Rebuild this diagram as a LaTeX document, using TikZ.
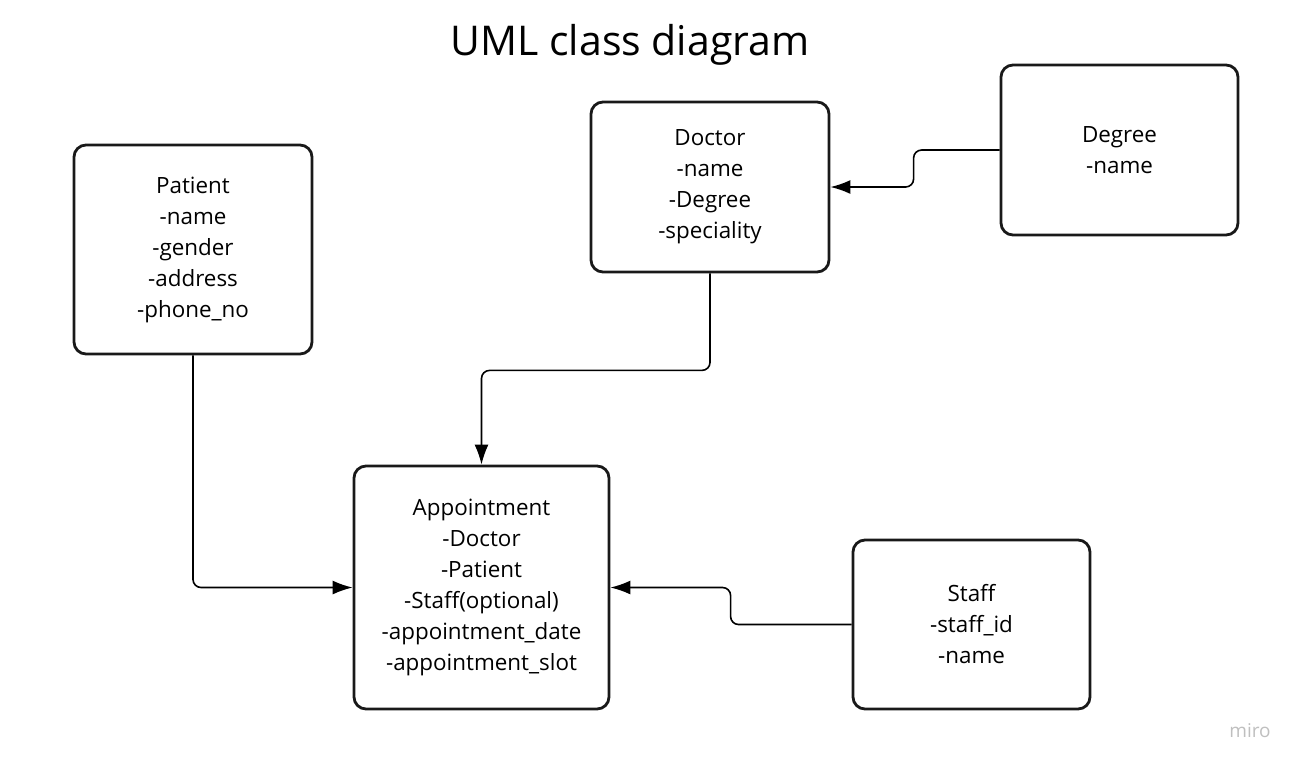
\documentclass[tikz,border=0pt]{standalone}
\usepackage{fontspec}
\setmainfont{Open Sans}
\usetikzlibrary{arrows.meta,positioning}
\begin{document}
\begin{tikzpicture}[x=0.5pt,y=-0.5pt,
    classbox/.style={draw=black!90, line width=1.4pt, rounded corners=6pt, align=center,
        inner sep=0pt, font=\fontsize{11.2}{15.5}\selectfont},
    link/.style={line width=0.8pt, rounded corners=4pt, -{Latex[length=10pt,width=7pt]}}]
    \useasboundingbox (0,0) rectangle (1301,768);
    \node (title) at (630,45) {\fontsize{20.5}{24}\selectfont UML class diagram};
    \node [classbox, minimum width=119pt, minimum height=104.5pt] (patient) at (193,249.5)
        {Patient\\-name\\-gender\\-address\\-phone\_no};
    \node [classbox, minimum width=119pt, minimum height=85pt] (doctor) at (710,187)
        {Doctor\\-name\\-Degree\\-speciality};
    \node [classbox, minimum width=118.5pt, minimum height=85pt] (degree) at (1119.5,150)
        {Degree\\-name};
    \node [classbox, minimum width=127.5pt, minimum height=121.5pt] (appointment) at (481.5,587.5)
        {Appointment\\-Doctor\\-Patient\\-Staff(optional)\\-appointment\_date\\-appointment\_slot};
    \node [classbox, minimum width=118.5pt, minimum height=84.5pt] (staff) at (971.5,624.5)
        {Staff\\-staff\_id\\-name};
    \node [text=black!25, font=\fontsize{9.5}{11}\selectfont] (logo) at (1250,731) {miro};
    \draw [link] (degree.west) -- ++(-86,0) |- (doctor.east);
    \draw [link] (doctor.south) -- ++(0,97) -| (appointment.north);
    \draw [link] (patient.south) |- (appointment.west);
    \draw [link] (staff.west) -- ++(-121,0) |- (appointment.east);
\end{tikzpicture}
\end{document}
